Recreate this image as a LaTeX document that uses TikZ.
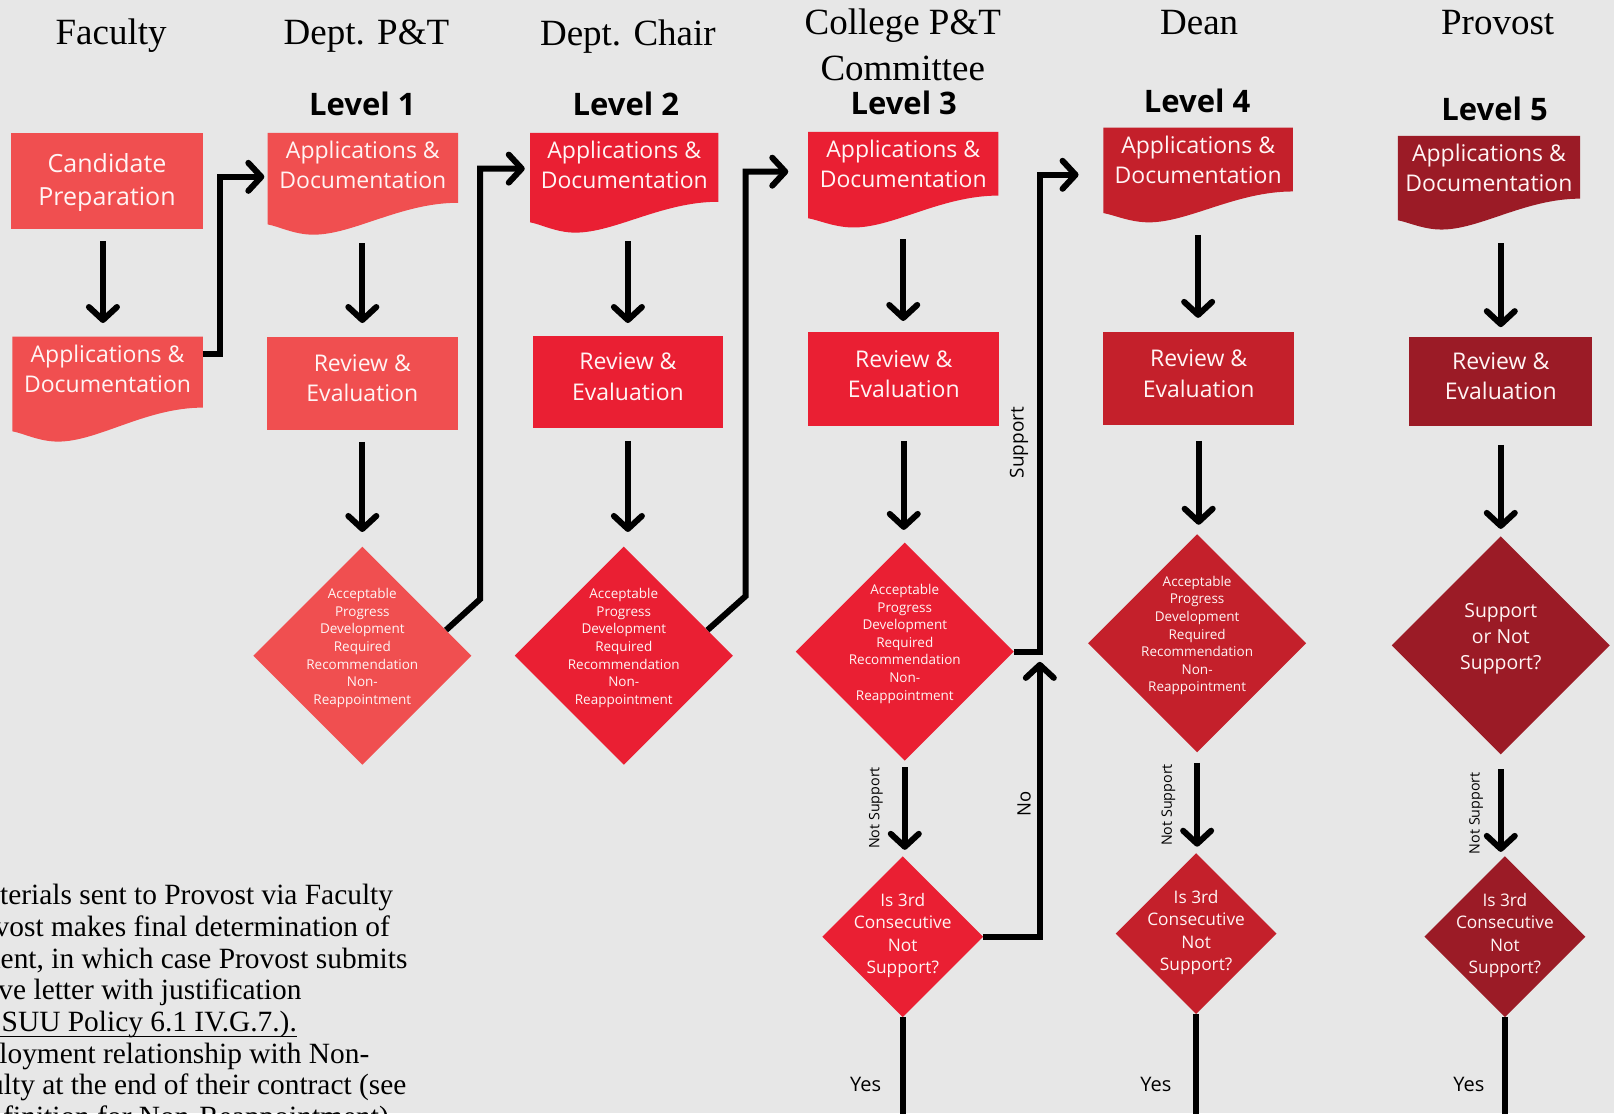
\documentclass[tikz,border=0pt]{standalone}
\usepackage{fontspec}
\setmainfont{Liberation Serif}
\newfontfamily\osans{Open Sans}
\usetikzlibrary{shapes.geometric,arrows.meta,fit,calc}
\definecolor{bg}{RGB}{231,231,231}
\definecolor{cA}{RGB}{240,79,80}
\definecolor{cB}{RGB}{234,31,51}
\definecolor{cC}{RGB}{196,32,43}
\definecolor{cD}{RGB}{155,27,38}
\definecolor{tw}{RGB}{255,244,244}
\newcommand\docshape[7]{%
  \fill[#7] (#1,#2) -- (#3,#2) -- (#3,#2+#4)
    .. controls ({#1+0.7*(#3-#1)},{#2+#4}) and ({#1+0.45*(#3-#1)},{#2+#6}) .. ({#1+0.24*(#3-#1)},{#2+#6})
    .. controls ({#1+0.14*(#3-#1)},{#2+#6}) and ({#1+0.06*(#3-#1)},{#2+#5+2}) .. (#1,#2+#5) -- cycle;}
\newcommand\varr[4]{\draw[arr] ($(#1.south)+(0,#3)$) -- ($(#1.south |- #2.north)+(0,-#4)$);}
\newcommand\varrt[4]{\draw[arr] ($(#2.north |- #1.south)+(0,#3)$) -- ($(#2.north)+(0,-#4)$);}
\begin{document}
\begin{tikzpicture}[x=1.0293pt,y=-1.0293pt,
  hdr/.style={font=\fontsize{37}{44}\selectfont, inner sep=0, anchor=base},
  lvl/.style={font=\osans\bfseries\fontsize{31}{36}\selectfont, inner sep=0, anchor=base},
  doctext/.style={font=\osans\fontsize{23}{30}\selectfont, text=tw, align=center, inner sep=0, anchor=north},
  boxtext/.style={font=\osans\fontsize{23}{30.5}\selectfont, text=tw, align=center, inner sep=0},
  box/.style={inner sep=0},
  dia/.style={diamond, aspect=1, inner sep=0, minimum width=218.2pt, minimum height=218.2pt},
  sdia/.style={diamond, aspect=1, inner sep=0, minimum width=161pt, minimum height=161pt},
  diatext/.style={font=\osans\fontsize{13.5}{17.6}\selectfont, text=tw, align=center, inner sep=0},
  qtext/.style={font=\osans\fontsize{17.3}{22.5}\selectfont, text=tw, align=center, inner sep=0},
  arr/.style={line width=6pt, -{Straight Barb[length=13pt,width=28pt,round]}},
  ln/.style={line width=6pt},
  lab/.style={font=\osans\fontsize{14.3}{17}\selectfont, inner sep=0, rotate=90},
  lab2/.style={font=\osans\fontsize{19}{22}\selectfont, inner sep=0, rotate=90},
  yes/.style={font=\osans\fontsize{20}{24}\selectfont, inner sep=0},
  btxt/.style={font=\fontsize{29.4}{32}\selectfont, inner sep=0, anchor=base east}]
\useasboundingbox (0,0) rectangle (1568,1081.3);
\fill[bg] (0,0) rectangle (1568,1081.3);
\clip (0,0) rectangle (1568,1081.3);

% headers
\node[hdr] (hfac) at (108,43) {Faculty};
\node[hdr] (hdpt) at (356,43) {Dept. P\&T};
\node[hdr] (hchair) at (610,44) {Dept. Chair};
\node[hdr] (hcol1) at (877,34) {College P\&T};
\node[hdr] (hcol2) at (877,78) {Committee};
\node[hdr] (hdean) at (1165,34) {Dean};
\node[hdr] (hprov) at (1455,34) {Provost};
\node[lvl] (lv1) at (352,112) {Level 1};
\node[lvl] (lv2) at (608,112) {Level 2};
\node[lvl] (lv3) at (878,111) {Level 3};
\node[lvl] (lv4) at (1163,109) {Level 4};
\node[lvl] (lv5) at (1452,117) {Level 5};

% faculty column
\node[box, fill=cA, fit={(11,129) (197,222)}] (cand) {};
\node[boxtext, font=\osans\fontsize{25}{33.5}\selectfont] (candt) at ($(cand.center)+(0,2)$) {Candidate\\Preparation};
\docshape{12}{327}{197}{69}{92}{102}{cA}
\node[box, fit={(12,327) (197,429)}] (doc0) {};
\node[doctext] (doc0t) at (104.5,335) {Applications \&\\Documentation};

% documents
\docshape{260}{129}{445}{68}{89}{99}{cA}
\node[box, fit={(260,129) (445,228)}] (doc1) {};
\node[doctext] (doc1t) at (352.5,137) {Applications \&\\Documentation};
\docshape{515}{129}{698}{67}{87}{97}{cB}
\node[box, fit={(515,129) (698,226)}] (doc2) {};
\node[doctext] (doc2t) at (606.5,137) {Applications \&\\Documentation};
\docshape{785}{128}{970}{62}{84}{93}{cB}
\node[box, fit={(785,128) (970,221)}] (doc3) {};
\node[doctext] (doc3t) at (877.5,136) {Applications \&\\Documentation};
\docshape{1072}{124}{1256}{62}{83}{92}{cC}
\node[box, fit={(1072,124) (1256,216)}] (doc4) {};
\node[doctext] (doc4t) at (1164,132) {Applications \&\\Documentation};
\docshape{1358}{132}{1535}{61}{82}{91}{cD}
\node[box, fit={(1358,132) (1535,223)}] (doc5) {};
\node[doctext] (doc5t) at (1446.5,140) {Applications \&\\Documentation};

% review boxes
\node[box, fill=cA, fit={(259,327) (445,418)}] (rev1) {};
\node[boxtext] (rev1t) at ($(rev1.center)+(0,-5)$) {Review \&\\Evaluation};
\node[box, fill=cB, fit={(518,326) (702,416)}] (rev2) {};
\node[boxtext] (rev2t) at ($(rev2.center)+(0,-5)$) {Review \&\\Evaluation};
\node[box, fill=cB, fit={(785,323) (971,414)}] (rev3) {};
\node[boxtext] (rev3t) at ($(rev3.center)+(0,-5)$) {Review \&\\Evaluation};
\node[box, fill=cC, fit={(1072,323) (1257,413)}] (rev4) {};
\node[boxtext] (rev4t) at ($(rev4.center)+(0,-5)$) {Review \&\\Evaluation};
\node[box, fill=cD, fit={(1369,327) (1547,414)}] (rev5) {};
\node[boxtext] (rev5t) at ($(rev5.center)+(0,-5)$) {Review \&\\Evaluation};

% yes lines (under diamonds)
\coordinate (bot) at (0,1095);
\node[sdia] (dia4) at (877,910) {};
\node[sdia] (dia6) at (1162,907) {};
\node[sdia] (dia8) at (1462,910) {};
\draw[ln] (dia4.south) -- (dia4.south |- bot);
\draw[ln] (dia6.south) -- (dia6.south |- bot);
\draw[ln] (dia8.south) -- (dia8.south |- bot);

% diamonds
\node[dia, fill=cA] (dia1) at (352,637) {};
\node[diatext] (dia1t) at ($(dia1.center)+(0,-7.5)$) {Acceptable\\Progress\\Development\\Required\\Recommendation\\Non-\\Reappointment};
\node[dia, fill=cB] (dia2) at (606,637) {};
\node[diatext] (dia2t) at ($(dia2.center)+(0,-7.5)$) {Acceptable\\Progress\\Development\\Required\\Recommendation\\Non-\\Reappointment};
\node[dia, fill=cB] (dia3) at (879,633) {};
\node[diatext] (dia3t) at ($(dia3.center)+(0,-7.5)$) {Acceptable\\Progress\\Development\\Required\\Recommendation\\Non-\\Reappointment};
\node[dia, fill=cC] (dia5) at (1163,625) {};
\node[diatext] (dia5t) at ($(dia5.center)+(0,-7.5)$) {Acceptable\\Progress\\Development\\Required\\Recommendation\\Non-\\Reappointment};
\node[dia, fill=cD] (dia7) at (1458,627) {};
\node[qtext, font=\osans\fontsize{19.4}{26}\selectfont] (dia7t) at ($(dia7.center)+(0,-6.5)$) {Support\\or Not\\Support?};
\node[sdia, fill=cB] at (dia4) {};
\node[qtext] (dia4t) at ($(dia4.center)+(0,-1)$) {Is 3rd\\Consecutive\\Not\\Support?};
\node[sdia, fill=cC] at (dia6) {};
\node[qtext] (dia6t) at ($(dia6.center)+(0,-1)$) {Is 3rd\\Consecutive\\Not\\Support?};
\node[sdia, fill=cD] at (dia8) {};
\node[qtext] (dia8t) at ($(dia8.center)+(0,-1)$) {Is 3rd\\Consecutive\\Not\\Support?};

% vertical arrows
\draw[arr] ($(cand.south)+(-4,12)$) -- ($(cand.south |- doc0.north)+(-4,-13)$);
\varrt{doc1}{rev1}{8}{13}
\varr{rev1}{dia1}{11}{14}
\varrt{doc2}{rev2}{8}{12}
\varr{rev2}{dia2}{12}{14}
\varr{doc3}{rev3}{11}{11}
\varr{rev3}{dia3}{14}{12}
\varr{dia3}{dia4}{6}{6}
\varr{doc4}{rev4}{12}{14}
\varr{rev4}{dia5}{15}{9}
\varr{dia5}{dia6}{10}{6}
\varrt{doc5}{rev5}{13}{9}
\varr{rev5}{dia7}{18}{7}
\varr{dia7}{dia8}{14}{4}

% elbow connectors
\draw[arr] ($(doc0.north east)+(0,17)$) -- ++(17,0) |- ($(doc1.north west)+(-3,43)$);
\draw[arr] (dia1.17) -- ++(33,-30) |- ($(doc2.north west)+(-5,35)$);
\draw[arr] (dia2.17) -- ++(37,-33) |- ($(doc3.north west)+(-19,39)$);
\coordinate (j) at ($(dia3.east)+(25,0)$);
\draw[arr] (dia3.east) -- (j) |- ($(doc4.north west)+(-24,46)$);
\draw[arr] (dia4.east) -| ($(j)+(0,10)$);

% labels
\node[lab] (ns3) at (851,785) {Not Support};
\node[lab] (ns5) at (1135,782) {Not Support};
\node[lab] (ns7) at (1434,790) {Not Support};
\node[lab2] (lsup) at (990,430) {Support};
\node[lab2, font=\osans\fontsize{18.5}{22}\selectfont] (lno) at (995,781) {No};
\node[yes] (yes3) at (841,1054) {Yes};
\node[yes] (yes6) at (1123,1054) {Yes};
\node[yes] (yes8) at (1427,1054) {Yes};

% bottom-left note
\node[btxt] (n1) at (382,879) {aterials sent to Provost via Faculty};
\node[btxt] (n2) at (379,910) {vost makes final determination of};
\node[btxt] (n3) at (396,941) {ment, in which case Provost submits};
\node[btxt] (n4) at (293,971) {ve letter with justification};
\node[btxt, anchor=base west] (n5) at (1.5,1002.5) {SUU Policy 6.1 IV.G.7.).};
\draw[line width=1.6pt] ($(n5.base west)+(-20,4.5)$) -- ($(n5.base east)+(0,4.5)$);
\node[btxt] (n6) at (359,1033) {loyment relationship with Non-};
\node[btxt] (n7) at (395,1063.5) {ulty at the end of their contract (see};
\node[btxt] (n8) at (385,1094.5) {finition for Non-Reappointment).};
\end{tikzpicture}
\end{document}
